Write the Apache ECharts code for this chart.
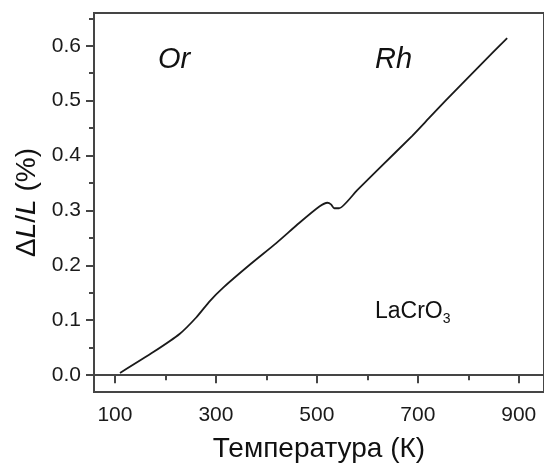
<!DOCTYPE html>
<html>
<head>
<meta charset="utf-8">
<script src="https://cdn.jsdelivr.net/npm/echarts@6/dist/echarts.min.js"></script>
<style>html,body{margin:0;padding:0;background:#fff;}#c{width:544px;height:468px;}</style>
</head>
<body>
<div id="c"></div>
<script>
const temperature = [110, 176, 228, 261, 288, 314, 367, 419, 465, 505, 521, 528, 534.5, 544, 580, 623, 689, 722, 755, 821, 877];
const dLL = [0.004, 0.042, 0.075, 0.105, 0.135, 0.159, 0.201, 0.240, 0.277, 0.307, 0.314, 0.311, 0.304, 0.304, 0.337, 0.376, 0.436, 0.468, 0.500, 0.562, 0.614];
const xMajor = [100, 300, 500, 700, 900];
const xMinor = [200, 400, 600, 800];
const yMajor = [0, 0.1, 0.2, 0.3, 0.4, 0.5, 0.6];
const yMinor = [0.05, 0.15, 0.25, 0.35, 0.45, 0.55, 0.65];

const FONT = "'Liberation Sans', Arial, sans-serif";
const AX = '#454545';
const chart = echarts.init(document.getElementById('c'), null, {renderer: 'canvas'});
const xMin = 58.5, xMax = 950, yMin = -0.0307, yMax = 0.6596;

chart.setOption({
  backgroundColor: '#fff',
  animation: false,
  grid: {left: 94, top: 13, right: -1, bottom: 73, show: true, borderColor: AX, borderWidth: 2, backgroundColor: 'transparent'},
  xAxis: [{
    type: 'value', min: xMin, max: xMax, position: 'bottom',
    axisLine: {show: true, lineStyle: {color: AX, width: 2}},
    axisTick: {show: true, inside: false, length: 8, lineStyle: {color: AX, width: 2}, customValues: xMajor},
    axisLabel: {show: true, customValues: xMajor, margin: 13, fontSize: 21, color: '#1a1a1a', fontFamily: FONT},
    splitLine: {show: false},
    name: 'Температура (К)', nameLocation: 'middle', nameGap: 43,
    nameTextStyle: {fontSize: 28, color: '#111', fontFamily: FONT}
  }, {
    type: 'value', min: xMin, max: xMax, position: 'bottom',
    axisLine: {show: false},
    axisTick: {show: true, inside: false, length: 5, lineStyle: {color: AX, width: 2}, customValues: xMinor},
    axisLabel: {show: false}, splitLine: {show: false}
  }],
  yAxis: [{
    type: 'value', min: yMin, max: yMax, position: 'left',
    axisLine: {show: true, lineStyle: {color: AX, width: 2}},
    axisTick: {show: true, inside: false, length: 8, lineStyle: {color: AX, width: 2}, customValues: yMajor},
    axisLabel: {show: true, customValues: yMajor, margin: 13, fontSize: 21, color: '#1a1a1a', fontFamily: FONT,
      formatter: v => v.toFixed(1)},
    splitLine: {show: false},
    name: '{n|Δ}{i|L}{n|/}{i|L}{n| (%)}', nameLocation: 'middle', nameGap: 51, nameRotate: 90,
    nameTextStyle: {fontSize: 28, color: '#111', fontFamily: FONT,
      rich: {n: {fontSize: 28, fontFamily: FONT, color: '#111'}, i: {fontSize: 28, fontStyle: 'italic', fontFamily: FONT, color: '#111'}}}
  }, {
    type: 'value', min: yMin, max: yMax, position: 'left',
    axisLine: {show: false},
    axisTick: {show: true, inside: false, length: 5, lineStyle: {color: AX, width: 2}, customValues: yMinor},
    axisLabel: {show: false}, splitLine: {show: false}
  }],
  series: [{
    type: 'line', xAxisIndex: 0, yAxisIndex: 0,
    data: temperature.map((t, i) => [t, dLL[i]]),
    showSymbol: false, smooth: 0.2,
    lineStyle: {color: '#1a1a1a', width: 1.8}
  }],
  graphic: [
    {type: 'text', x: 158, y: 45, style: {text: 'Or', font: "italic 29px " + FONT, fill: '#111'}},
    {type: 'text', x: 375, y: 45, style: {text: 'Rh', font: "italic 29px " + FONT, fill: '#111'}},
    {type: 'text', x: 375, y: 297, style: {text: 'LaCrO{s|3}', font: "23px " + FONT, fill: '#111',
      rich: {s: {fontSize: 14, fontFamily: FONT, fill: '#111', padding: [15, 0, 0, 0]}}}}
  ]
});
</script>
</body>
</html>
